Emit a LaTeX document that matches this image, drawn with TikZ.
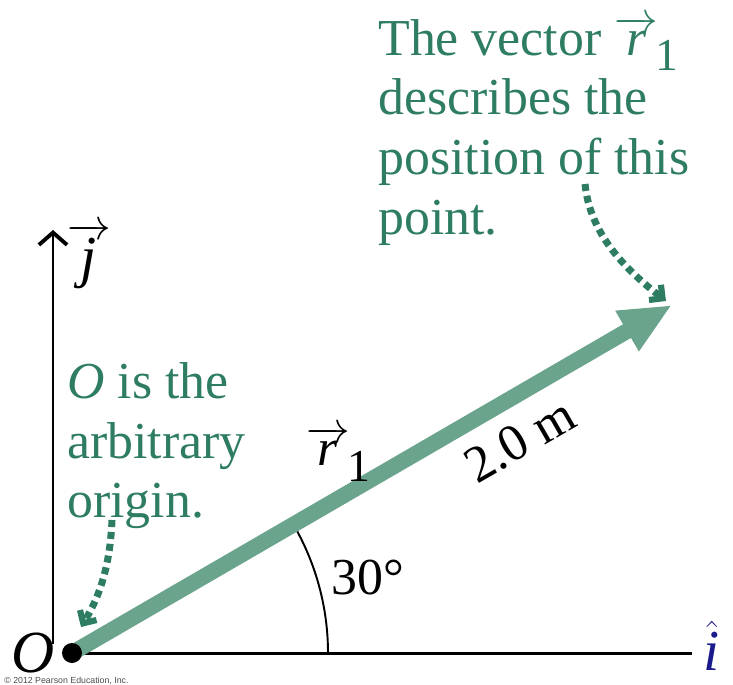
\documentclass[tikz,border=0pt]{standalone}
\usepackage{fontspec}
\setmainfont{Liberation Serif}
\setsansfont{Liberation Sans}
\usetikzlibrary{arrows.meta,positioning}
\definecolor{vecgreen}{HTML}{6BA48C}
\definecolor{txtgreen}{HTML}{2E7D63}
\definecolor{hatblue}{HTML}{1A1A8C}
\newcommand{\rone}{$\overrightarrow{\mathit{r}}$\kern-1.5pt\raisebox{-0.3em}{\fontsize{26}{26}\selectfont 1}}
\tikzset{
  big/.style={font=\fontsize{29.5}{34}\selectfont, inner sep=0pt},
  note/.style={big, text=txtgreen, align=left, anchor=north west},
  vec/.style={draw=vecgreen, line width=9pt, -{Triangle[length=1.04cm,width=0.86cm]}},
  axis/.style={draw=black, line width=1.7pt},
  hint/.style={draw=txtgreen, line width=4pt, dash pattern=on 4pt off 2.8pt, -{Straight Barb[length=5.5pt,width=11pt,line width=3.5pt]}},
  dot/.style={circle, fill=black, minimum size=0.4cm, inner sep=0pt},
}
\begin{document}
\begin{tikzpicture}[x=0.02cm, y=0.02cm]
  \useasboundingbox (0,0) rectangle (733,684);

  % axes
  \coordinate (O) at (72,31);
  \coordinate (xend) at (692,31);
  \coordinate (ybot) at (53,40);
  \coordinate (ytop) at (53,454);
  \draw[axis] (O) -- (xend);
  \draw[axis, line width=1.1pt, -{Straight Barb[length=7pt,width=16pt,line width=2.2pt]}] (ybot) -- (ytop);
  \node[big, font=\fontsize{33}{38}\selectfont, text=hatblue] (ihat) at (712,38) {$\hat{\mathit{i}}$};
  \node[big, font=\fontsize{33}{38}\selectfont] (jhat) at (89,428) {$\overrightarrow{\mathit{j}}$};
  \node[big, font=\fontsize{34}{40}\selectfont\itshape] (olab) at (33,31) {O};

  % angle
  \draw[line width=1.1pt] (O) ++(256,0) arc (0:30:256);
  \node[big] (ang) at (368,106) {30°};

  % vector
  \coordinate (tip) at (672,379);
  \draw[vec] (O) -- (tip);
  \node[dot] (o) at (O) {};
  \node[big] (rlab) at (338,230) {\rone};
  \node[big, rotate=30] (len) at (520,244) {2.0 m};

  % notes
  \node[note] (top) at (378,668) {The vector \rone\\describes the\\position of this\\point.};
  \node[note] (orig) at (67,322) {\textit{O} is the\\arbitrary\\origin.};
  \coordinate (p1) at (585,500);
  \coordinate (q1) at (666,383);
  \coordinate (p2) at (112,164);
  \coordinate (q2) at (81,57);
  \draw[hint] (p1) .. controls (590,450) and (625,415) .. (q1);
  \draw[hint] (p2) .. controls (110,115) and (98,85) .. (q2);

  \node[font=\sffamily\fontsize{5}{6}\selectfont, text=black!70, anchor=base west, inner sep=0pt] (copy) at (4,1) {© 2012 Pearson Education, Inc.};
\end{tikzpicture}
\end{document}
